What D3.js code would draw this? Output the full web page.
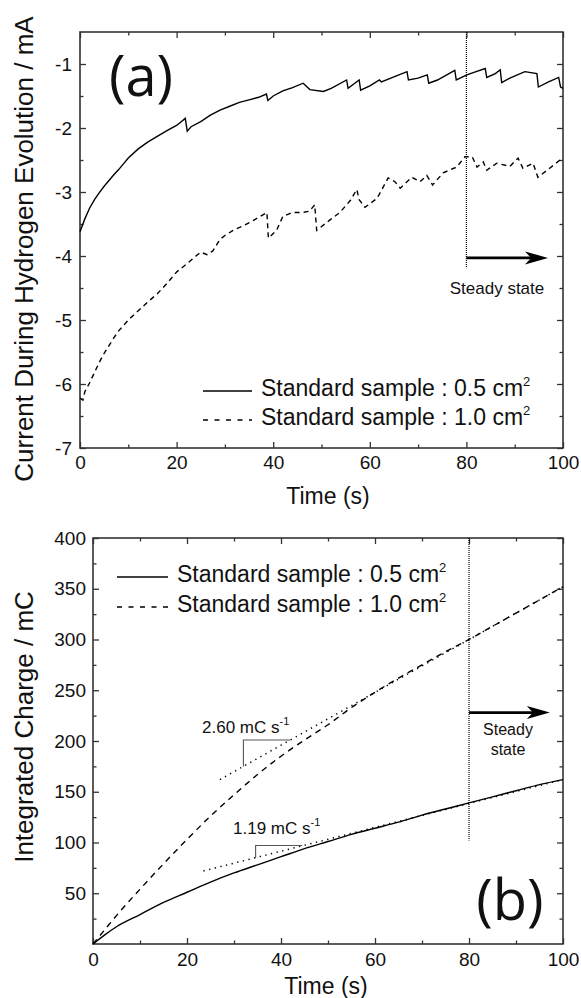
<!DOCTYPE html>
<html>
<head>
<meta charset="utf-8">
<script src="https://cdn.jsdelivr.net/npm/d3@7"></script>
<style>
  body { margin: 0; background: #fff; }
  text { font-family: "Liberation Sans", Arial, sans-serif; fill: #111; }
</style>
</head>
<body>
<svg id="chart"></svg>
<script>
let width = 581,
    height = 998,
    svg = d3.select("#chart").attr("width", width).attr("height", height);

// ---- data ----
// (a) current vs time, [t (s), I (mA)]
const currentSmall = [
  [0, -3.62], [1, -3.42], [2, -3.25], [3, -3.12], [4, -3.01], [5, -2.91], [6, -2.82],
  [7, -2.73], [8, -2.65], [9, -2.56], [10, -2.47], [12, -2.33], [14, -2.22], [16, -2.13],
  [18, -2.04], [20, -1.96], [21.8, -1.85], [22.2, -2.05], [23, -1.98], [25, -1.9],
  [27, -1.8], [29, -1.72], [31, -1.66], [33, -1.6], [35, -1.56], [37, -1.52], [38.6, -1.47],
  [38.9, -1.57], [40, -1.5], [42, -1.42], [44, -1.37], [46.2, -1.3], [47.6, -1.4],
  [50.4, -1.43], [52, -1.38], [55.2, -1.25], [55.5, -1.38], [57.8, -1.25], [58.1, -1.41],
  [60, -1.34], [62, -1.25], [62.4, -1.28], [65, -1.2], [67.7, -1.12], [68, -1.25],
  [70, -1.22], [71.9, -1.17], [72.2, -1.3], [74, -1.25], [77.6, -1.1], [77.9, -1.25],
  [80.1, -1.17], [82, -1.12], [83.9, -1.07], [84.2, -1.21], [86, -1.15], [87, -1.09],
  [87.3, -1.29], [89, -1.22], [92.1, -1.12], [94.6, -1.15], [94.9, -1.36], [97, -1.28],
  [99.1, -1.21], [99.5, -1.36], [100, -1.38]
];
const currentLarge = [
  [0, -6.22], [0.6, -6.25], [1, -6.12], [2, -5.98], [3, -5.82], [4, -5.66], [5, -5.52],
  [6, -5.4], [7, -5.28], [8, -5.17], [10, -5.0], [12, -4.86], [14, -4.72], [16, -4.59],
  [18, -4.43], [20, -4.25], [22, -4.13], [24, -4.0], [25, -3.94], [26.3, -3.98], [27.5, -3.92],
  [29, -3.74], [30, -3.68], [31.7, -3.6], [34, -3.52], [36, -3.44], [38.7, -3.32],
  [39, -3.72], [40.7, -3.6], [42, -3.38], [44, -3.32], [46, -3.32], [47.5, -3.3],
  [48.6, -3.2], [49, -3.6], [51.7, -3.44], [53.8, -3.32], [56, -3.13], [57.3, -2.96],
  [57.8, -3.12], [59, -3.24], [61.5, -3.1], [63.8, -2.78], [65.2, -2.84], [66.3, -2.94],
  [68.7, -2.77], [70.4, -2.84], [71.8, -2.74], [73, -2.89], [75.2, -2.7], [78, -2.61],
  [79.7, -2.45], [81.2, -2.45], [82.2, -2.61], [83.5, -2.53], [84.2, -2.66], [86.3, -2.55],
  [89, -2.6], [90.7, -2.47], [91.7, -2.63], [93.8, -2.55], [94.8, -2.77], [96.7, -2.66],
  [99.4, -2.5], [100, -2.47]
];

// (b) integrated charge vs time, [t (s), Q (mC)]
const chargeSmall = [
  [0, 0], [2.5, 9], [5, 17], [10, 29], [15, 41], [20, 51], [25, 61], [30, 70], [35, 78],
  [40, 86], [45, 94], [50, 101], [55, 108], [60, 114], [65, 120], [70, 127], [75, 133],
  [80, 139], [85, 145], [90, 151], [95, 157], [100, 162]
];
const chargeLarge = [
  [0, 0], [2.5, 14], [5, 28], [10, 54], [15, 79], [20, 103], [25, 126], [30, 147], [35, 167],
  [40, 185], [45, 201], [50, 216], [55, 233], [60, 248], [65, 262], [70, 275], [75, 288],
  [80, 300], [85, 313], [90, 326], [95, 339], [100, 352]
];
// steady-state fits (dotted) and slope triangles
const fitLarge = [[27, 162], [100, 352]];
const fitSmall = [[23.5, 72], [100, 162]];
const slopeLarge = [[32, 175], [32, 201], [42, 201]];
const slopeSmall = [[34.6, 85], [34.6, 97], [44.5, 97]];

const seriesNames = ["Standard sample : 0.5 cm", "Standard sample : 1.0 cm"];
const xTicks = [0, 20, 40, 60, 80, 100];
const xMinor = [10, 30, 50, 70, 90];
const yTicksA = [-7, -6, -5, -4, -3, -2, -1];
const yMinorA = [-6.5, -5.5, -4.5, -3.5, -2.5, -1.5];
const yTicksB = [50, 100, 150, 200, 250, 300, 350, 400];
const yMinorB = [25, 75, 125, 175, 225, 275, 325, 375];

// ---- helpers ----
function frame(box, yDomain, yMajor, yMinor, padX, padY) {
  let x = d3.scaleLinear().domain([0, 100]).range([box.left, box.right]);
  let y = d3.scaleLinear().domain(yDomain).range([box.bottom, box.top]);
  let g = svg.append("g");

  // inward ticks on all four sides
  let axes = [
    [d3.axisBottom(x), `translate(0,${box.bottom})`, true],
    [d3.axisTop(x), `translate(0,${box.top})`, false],
  ];
  axes.forEach(([ax, tr, lab]) => {
    g.append("g").attr("transform", tr)
      .call(ax.tickValues(xTicks).tickSizeInner(-6).tickSizeOuter(0).tickPadding(padX)
        .tickFormat(lab ? d => d : ""));
    g.append("g").attr("transform", tr)
      .call(ax.tickValues(xMinor).tickSizeInner(-3.5).tickSizeOuter(0).tickFormat(""));
  });
  let yAxes = [
    [d3.axisLeft(y), `translate(${box.left},0)`, true],
    [d3.axisRight(y), `translate(${box.right},0)`, false],
  ];
  yAxes.forEach(([ax, tr, lab]) => {
    g.append("g").attr("transform", tr)
      .call(ax.tickValues(yMajor).tickSizeInner(-6).tickSizeOuter(0).tickPadding(padY)
        .tickFormat(lab ? d => String(d) : ""));
    g.append("g").attr("transform", tr)
      .call(ax.tickValues(yMinor).tickSizeInner(-3.5).tickSizeOuter(0).tickFormat(""));
  });
  g.selectAll(".domain").remove();
  g.selectAll(".tick line").attr("stroke", "#333").attr("stroke-width", 1.3);
  g.selectAll(".tick text").style("font-size", "19px");

  g.append("rect")
    .attr("x", box.left).attr("y", box.top)
    .attr("width", box.right - box.left).attr("height", box.bottom - box.top)
    .attr("fill", "none").attr("stroke", "#333").attr("stroke-width", 1.6);
  return {x: x, y: y, g: g};
}

function curve(p, data, dash, w, smooth) {
  let line = d3.line().x(d => p.x(d[0])).y(d => p.y(d[1]));
  if (smooth) line.curve(d3.curveMonotoneX);
  p.g.append("path").datum(data)
    .attr("d", line)
    .attr("fill", "none")
    .attr("stroke", "#000")
    .attr("stroke-width", w || 1.4)
    .attr("stroke-dasharray", dash);
}

function arrow(p, t0, t1, v) {
  let x0 = p.x(t0), x1 = p.x(t1), yy = p.y(v);
  p.g.append("line").attr("x1", x0).attr("x2", x1 - 14).attr("y1", yy).attr("y2", yy)
    .attr("stroke", "#000").attr("stroke-width", 2.6);
  p.g.append("path")
    .attr("d", `M${x1},${yy} L${x1 - 23},${yy - 6.5} L${x1 - 17},${yy} L${x1 - 23},${yy + 6.5} Z`)
    .attr("fill", "#000");
}

function legend(items, xl, yl, gap) {
  items.forEach((name, i) => {
    let yy = yl + i * gap;
    svg.append("line")
      .attr("x1", xl[0]).attr("x2", xl[1]).attr("y1", yy).attr("y2", yy)
      .attr("stroke", "#000").attr("stroke-width", 1.4)
      .attr("stroke-dasharray", i === 0 ? null : "5,6.5");
    let t = svg.append("text").attr("x", xl[1] + 9).attr("y", yy + 5).style("font-size", "23px");
    t.append("tspan").text(name);
    t.append("tspan").text("2").attr("dy", -10).style("font-size", "13px");
  });
}

function slopeLabel(xp, yp, val) {
  let t = svg.append("text").attr("x", xp).attr("y", yp).style("font-size", "17px");
  t.append("tspan").text(val + " mC s");
  t.append("tspan").text("-1").attr("dy", -8).style("font-size", "11px");
}

// ---- panel (a) ----
let pa = frame({left: 80, right: 563, top: 32, bottom: 448}, [-7, -0.5], yTicksA, yMinorA, 8, 8);
curve(pa, currentSmall, null);
curve(pa, currentLarge, "5,4");

pa.g.append("line")
  .attr("x1", pa.x(80)).attr("x2", pa.x(80)).attr("y1", pa.y(-0.5)).attr("y2", pa.y(-4.19))
  .attr("stroke", "#000").attr("stroke-width", 1.2).attr("stroke-dasharray", "1,1");
arrow(pa, 80, 96.9, -4.03);
svg.append("text").attr("x", 497).attr("y", 294).attr("text-anchor", "middle")
  .style("font-size", "17px").text("Steady state");

svg.append("text").attr("x", 141).attr("y", 96).attr("text-anchor", "middle")
  .style("font-family", "'Open Sans', 'DejaVu Sans', sans-serif").style("font-size", "56px")
  .text("(a)");
svg.append("text").attr("transform", "translate(33,249) rotate(-90)")
  .attr("text-anchor", "middle").style("font-size", "26px")
  .text("Current During Hydrogen Evolution / mA");
svg.append("text").attr("x", 328).attr("y", 504).attr("text-anchor", "middle")
  .style("font-size", "23px").text("Time (s)");
legend(seriesNames, [203, 252], 391, 29);

// ---- panel (b) ----
let pb = frame({left: 93, right: 563, top: 538, bottom: 944}, [0, 400], yTicksB, yMinorB, 9, 7);
curve(pb, fitLarge, "1.3,4.5", 1.5);
curve(pb, fitSmall, "1.3,4.5", 1.5);
curve(pb, chargeSmall, null, 1.4, true);
curve(pb, chargeLarge, "6,5", 1.4, true);
[slopeLarge, slopeSmall].forEach(s => {
  pb.g.append("path").datum(s)
    .attr("d", d3.line().x(d => pb.x(d[0])).y(d => pb.y(d[1])))
    .attr("fill", "none").attr("stroke", "#555").attr("stroke-width", 1.1);
});
slopeLabel(202, 733, "2.60");
slopeLabel(233, 834, "1.19");

pb.g.append("line")
  .attr("x1", pb.x(80)).attr("x2", pb.x(80)).attr("y1", pb.y(400)).attr("y2", pb.y(102))
  .attr("stroke", "#000").attr("stroke-width", 1.2).attr("stroke-dasharray", "1,1");
arrow(pb, 80, 97.2, 228);
svg.append("text").attr("x", 508).attr("y", 735).attr("text-anchor", "middle")
  .style("font-size", "16px").text("Steady");
svg.append("text").attr("x", 508).attr("y", 755).attr("text-anchor", "middle")
  .style("font-size", "16px").text("state");

svg.append("text").attr("x", 510).attr("y", 920).attr("text-anchor", "middle")
  .style("font-family", "'Open Sans', 'DejaVu Sans', sans-serif").style("font-size", "56px")
  .text("(b)");
svg.append("text").attr("transform", "translate(33,727) rotate(-90)")
  .attr("text-anchor", "middle").style("font-size", "26px")
  .text("Integrated Charge / mC");
svg.append("text").attr("x", 326).attr("y", 994).attr("text-anchor", "middle")
  .style("font-size", "23px").text("Time (s)");
legend(seriesNames, [117, 168], 577, 30);
</script>
</body>
</html>
